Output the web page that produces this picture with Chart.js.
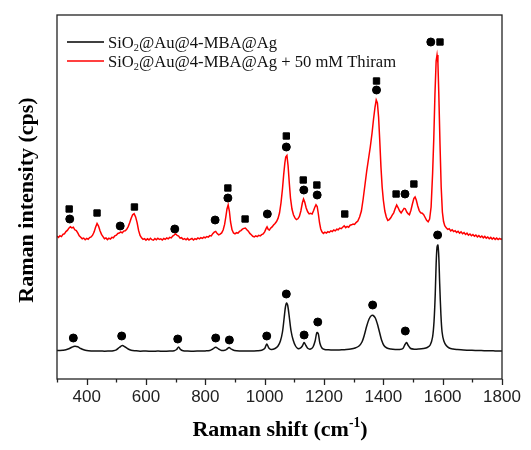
<!DOCTYPE html>
<html>
<head>
<meta charset="utf-8">
<script src="https://cdn.jsdelivr.net/npm/chart.js@4"></script>
<style>
  html, body { margin: 0; padding: 0; background: #fff; }
  #wrap { width: 531px; height: 450px; }
</style>
</head>
<body>
<div id="wrap"><canvas id="raman" width="531" height="450"></canvas></div>
<script>
// Raman shift (cm-1) and intensity (arbitrary units)
const blackShift = [300,310,320,330,340,350,360,370,380,390,400,415,430,445,460,475,490,500,510,520,530,540,550,565,580,600,620,640,660,680,695,703,710,716,725,740,760,780,800,815,825,835,845,855,865,873,880,888,898,915,935,955,975,990,1000,1007,1014,1022,1035,1045,1053,1060,1066,1070,1074,1078,1083,1089,1096,1104,1112,1120,1127,1133,1139,1146,1155,1163,1170,1176,1181,1186,1193,1202,1215,1230,1245,1260,1275,1290,1305,1318,1328,1336,1344,1352,1360,1366,1373,1380,1387,1394,1402,1412,1425,1440,1455,1466,1473,1478,1484,1492,1505,1520,1535,1548,1558,1566,1571,1575,1578,1581,1584,1587,1590,1594,1598,1604,1612,1622,1635,1650,1670,1690,1710,1730,1750,1770,1785,1800];
const blackIntensity = [28.5,28.6,28.8,29.2,30.2,31.8,32.8,32.2,30.5,29.2,28.4,28.0,27.9,28.1,27.8,28.0,28.3,29.2,31.5,33.5,32.0,30.0,28.8,28.2,27.8,28.0,27.7,27.9,27.8,28.0,28.3,29.5,32.0,29.6,28.3,28.0,27.8,28.0,28.1,28.5,30.0,31.8,30.0,28.6,28.7,30.0,31.5,29.8,28.5,28.0,28.1,28.0,28.3,28.8,30.5,35.0,31.0,29.5,30.5,33.0,38.0,47.0,62.0,72.0,76.0,73.0,62.0,48.0,39.0,33.0,30.5,30.8,33.0,36.5,33.5,30.5,30.0,32.0,38.0,46.5,45.0,36.0,31.0,29.5,29.2,29.0,29.0,29.2,29.5,30.0,31.0,33.0,37.0,44.0,53.0,60.0,63.5,63.5,61.0,55.0,47.0,39.0,33.5,31.0,30.0,29.5,29.5,30.5,34.5,36.5,33.5,30.5,29.8,30.0,30.5,31.5,34.0,42.0,58.0,85.0,115.0,132.0,134.0,122.0,95.0,65.0,47.0,38.0,33.5,31.0,30.0,29.5,29.0,28.8,28.5,28.4,28.3,28.2,28.0,28.0];

// thiram spectrum, [shift, intensity]
const redSpectrum = [
  [300,143],[305,141.6],[310,143.2],[315,142.4],[320,144.6],[325,145.2],[330,147.4],[335,148.6],[340,150.8],[345,152.2],
  [350,151.1],[355,151.8],[360,149.2],[365,148.4],[370,146.1],[375,143.2],[380,141.8],[385,140.2],[390,140.9],[395,139.3],
  [400,140.6],[405,139.8],[410,141.4],[415,142.1],[420,143.8],[425,146.9],[430,151.8],[435,155.6],[440,152.9],[445,148.2],
  [450,144.6],[455,142.4],[460,140.3],[465,141.1],[470,139.4],[475,140.8],[480,139.9],[485,141.6],[490,141.2],[495,143.1],
  [500,143.8],[505,145.6],[510,145.9],[515,147.0],[520,146.2],[525,147.9],[530,148.3],[535,149.6],[540,152.4],[545,156.3],
  [550,160.8],[555,164.2],[560,165.4],[565,162.1],[570,156.4],[575,148.6],[580,143.5],[585,141.2],[590,139.6],[595,140.4],
  [600,138.9],[605,140.2],[610,139.1],[615,140.7],[620,139.3],[625,138.8],[630,140.4],[635,139.2],[640,140.8],[645,139.5],
  [650,140.1],[655,138.9],[660,140.5],[665,139.7],[670,141.0],[675,140.2],[680,141.6],[685,141.1],[690,142.9],[695,144.0],
  [700,145.2],[705,143.6],[710,142.9],[715,140.8],[720,141.3],[725,139.6],[730,140.4],[735,139.2],[740,140.6],[745,138.9],
  [750,139.8],[755,140.5],[760,139.0],[765,140.3],[770,139.6],[775,141.1],[780,140.2],[785,141.4],[790,140.6],[795,141.9],
  [800,141.2],[805,142.5],[810,141.9],[815,143.4],[820,143.1],[825,145.3],[830,146.8],[835,147.6],[840,145.4],[845,144.2],
  [850,144.9],[855,146.1],[860,149.0],[865,154.6],[869,162],[873,170],[877,174],[881,168],[885,157],[890,149.2],
  [895,146.0],[900,145.1],[905,146.3],[910,145.8],[915,147.6],[920,148.4],[925,149.9],[930,150.6],[935,151.0],[940,149.3],
  [945,147.8],[950,145.6],[955,144.3],[960,142.7],[965,142.1],[970,143.2],[975,142.4],[980,143.6],[985,143.1],[990,144.4],
  [995,145.0],[1000,147.2],[1005,150.6],[1008,152.2],[1012,149.6],[1016,148.9],[1020,150.8],[1025,152.1],[1030,154.0],[1035,155.6],
  [1040,157.4],[1045,160.6],[1050,166],[1055,176],[1060,190],[1064,204],[1068,216],[1071,222],[1075,223.5],[1079,213],
  [1083,196],[1087,181],[1092,170],[1097,164.2],[1102,161.1],[1107,159.4],[1112,160.2],[1117,162.5],[1122,168],[1127,176],
  [1131,180],[1135,177],[1140,171],[1145,167.2],[1150,165.1],[1155,165.6],[1160,164.9],[1165,168.4],[1169,171.8],[1173,174.2],
  [1177,172.5],[1181,165],[1185,156],[1189,150],[1193,147.2],[1198,145.6],[1203,146.8],[1208,145.9],[1213,147.4],[1218,146.6],
  [1223,148.2],[1228,147.5],[1233,149.0],[1238,148.1],[1243,149.8],[1248,149.2],[1253,150.9],[1258,150.3],[1263,151.8],[1268,153.2],
  [1273,151.4],[1278,152.6],[1283,151.7],[1288,153.8],[1293,154.2],[1298,155.0],[1303,154.6],[1308,156.4],[1314,158],[1320,162],
  [1326,168],[1332,180],[1338,194],[1344,208],[1350,220],[1356,232],[1362,246],[1367,260],[1372,272],[1376,279],
  [1380,276],[1384,262],[1388,238],[1392,212],[1396,192],[1400,179],[1405,168],[1410,162],[1415,158.6],[1420,159.4],
  [1425,161.2],[1430,163.8],[1435,166.2],[1440,170.4],[1445,174],[1450,171.2],[1455,168],[1460,166],[1465,168.4],[1470,170.6],
  [1474,170.2],[1479,167],[1484,165.1],[1488,164.2],[1493,168.8],[1498,175],[1503,180.6],[1507,182],[1511,179],[1516,173],
  [1521,168.4],[1526,166.2],[1531,165.8],[1536,164.4],[1541,161.5],[1546,158.6],[1551,157.2],[1556,160],[1561,172],[1566,205],
  [1570,240],[1574,285],[1578,318],[1581,324],[1584,316],[1587,285],[1591,235],[1595,192],[1599,167],[1603,157.5],
  [1607,153.4],[1612,151.2],[1617,149.6],[1622,150.3],[1627,148.1],[1632,149.2],[1637,147.4],[1642,148.3],[1647,146.6],[1652,147.8],
  [1657,145.9],[1662,147.1],[1667,145.2],[1672,146.4],[1677,144.5],[1682,145.8],[1687,143.9],[1692,145.0],[1697,143.2],[1702,144.5],
  [1707,142.8],[1712,143.9],[1717,142.1],[1722,143.4],[1727,141.7],[1732,142.9],[1737,141.2],[1742,142.6],[1747,140.8],[1752,142.0],
  [1757,140.3],[1762,141.6],[1767,139.9],[1772,141.2],[1777,139.6],[1782,140.9],[1787,139.4],[1792,140.6],[1797,139.7],[1800,140.3]
];

// peak assignment markers
const blackCircleShift = [355,518,707,835,881,1007,1073,1133,1179,1364,1474,1583];
const blackCircleY = [41,43,40,41,39,43,85,44,57,74,48,144];
const redCircleShift = [343,513,697,833,876,1009,1073,1132,1177,1377,1473,1560];
const redCircleY = [160,153,150,159,181,165,232,189,184,289,185,337];
const redSquareShift = [341,435,561,876,934,1073,1130,1176,1270,1377,1443,1503,1591];
const redSquareY = [170,166,172,191,160,243,199,194,165,298,185,195,337];

const serif = '"Liberation Serif", "Times New Roman", serif';
const sans = '"Liberation Sans", Arial, sans-serif';

function pts(xs, ys) { return xs.map((x, i) => ({ x: x, y: ys[i] })); }

// draws text pieces with sub/superscripts, returns width
function drawRich(ctx, parts, x, y, size, bold) {
    let cx = x;
    parts.forEach(p => {
        const s = p.sub || p.sup ? size * 0.62 : size;
        ctx.font = (bold ? 'bold ' : '') + s + 'px ' + serif;
        const dy = p.sub ? size * 0.22 : p.sup ? -size * 0.42 : 0;
        ctx.fillText(p.t, cx, y + dy);
        cx += ctx.measureText(p.t).width;
    });
    return cx - x;
}
function richWidth(ctx, parts, size, bold) {
    let w = 0;
    parts.forEach(p => {
        const s = p.sub || p.sup ? size * 0.62 : size;
        ctx.font = (bold ? 'bold ' : '') + s + 'px ' + serif;
        w += ctx.measureText(p.t).width;
    });
    return w;
}

const decor = {
    id: 'decor',
    afterDraw(chart) {
        const { ctx, chartArea: a, scales: { x } } = chart;
        ctx.save();
        // frame
        ctx.strokeStyle = '#222';
        ctx.lineWidth = 1.3;
        ctx.strokeRect(a.left, a.top, a.right - a.left, a.bottom - a.top);
        // major + minor ticks, hanging below the axis
        for (let v = 300; v <= 1800; v += 100) {
            const px = Math.round(x.getPixelForValue(v)) + 0.5;
            ctx.beginPath();
            ctx.moveTo(px, a.bottom);
            ctx.lineTo(px, a.bottom + (v % 200 === 0 ? 6 : 3.5));
            ctx.stroke();
        }
        // legend
        const rows = [
            { c: '#000', parts: [{ t: 'SiO' }, { t: '2', sub: 1 }, { t: '@Au@4-MBA@Ag' }] },
            { c: '#f00', parts: [{ t: 'SiO' }, { t: '2', sub: 1 }, { t: '@Au@4-MBA@Ag + 50 mM Thiram' }] }
        ];
        ctx.textBaseline = 'alphabetic';
        ctx.textAlign = 'left';
        rows.forEach((r, i) => {
            const ly = 42 + i * 19;
            ctx.strokeStyle = r.c;
            ctx.lineWidth = 1.5;
            ctx.beginPath();
            ctx.moveTo(67, ly);
            ctx.lineTo(104, ly);
            ctx.stroke();
            ctx.fillStyle = '#111';
            drawRich(ctx, r.parts, 108, ly + 5.5, 16.6, false);
        });
        // axis titles
        ctx.fillStyle = '#000';
        const xt = [{ t: 'Raman shift (cm' }, { t: '-1', sup: 1 }, { t: ')' }];
        const w = richWidth(ctx, xt, 22, true);
        drawRich(ctx, xt, 280 - w / 2, 436, 22, true);
        ctx.translate(33, 200);
        ctx.rotate(-Math.PI / 2);
        ctx.textAlign = 'center';
        ctx.font = 'bold 22px ' + serif;
        ctx.fillText('Raman intensity (cps)', 0, 0);
        ctx.restore();
    }
};

new Chart(document.getElementById('raman'), {
    type: 'scatter',
    data: {
        datasets: [
            { data: pts(blackShift, blackIntensity), showLine: true, borderColor: '#111', borderWidth: 1.5, pointRadius: 0, tension: 0.3 },
            { data: redSpectrum.map(p => ({ x: p[0], y: p[1] })), showLine: true, borderColor: '#f00', borderWidth: 1.5, pointRadius: 0, tension: 0 },
            { data: pts(blackCircleShift, blackCircleY), pointStyle: 'circle', pointRadius: 4, backgroundColor: '#000', borderColor: '#000' },
            { data: pts(redCircleShift, redCircleY), pointStyle: 'circle', pointRadius: 4, backgroundColor: '#000', borderColor: '#000' },
            { data: pts(redSquareShift, redSquareY), pointStyle: 'rect', pointRadius: 4.5, backgroundColor: '#000', borderColor: '#000' }
        ]
    },
    options: {
        responsive: false,
        animation: false,
        layout: { padding: { left: 57, right: 29, top: 15, bottom: 0 } },
        plugins: { legend: { display: false }, tooltip: { enabled: false } },
        scales: {
            x: {
                type: 'linear', min: 300, max: 1800,
                grid: { display: false, drawTicks: false },
                border: { display: false },
                ticks: {
                    stepSize: 100, padding: 8, color: '#222',
                    maxRotation: 0, minRotation: 0, autoSkip: false,
                    font: { family: sans, size: 17 },
                    callback: v => (v % 200 === 0 ? v : '')
                },
                afterFit: s => { s.height = 71; }
            },
            y: {
                min: 0, max: 364,
                grid: { display: false, drawTicks: false },
                border: { display: false },
                ticks: { display: false },
                afterFit: s => { s.width = 0; }
            }
        }
    },
    plugins: [decor]
});
</script>
</body>
</html>
